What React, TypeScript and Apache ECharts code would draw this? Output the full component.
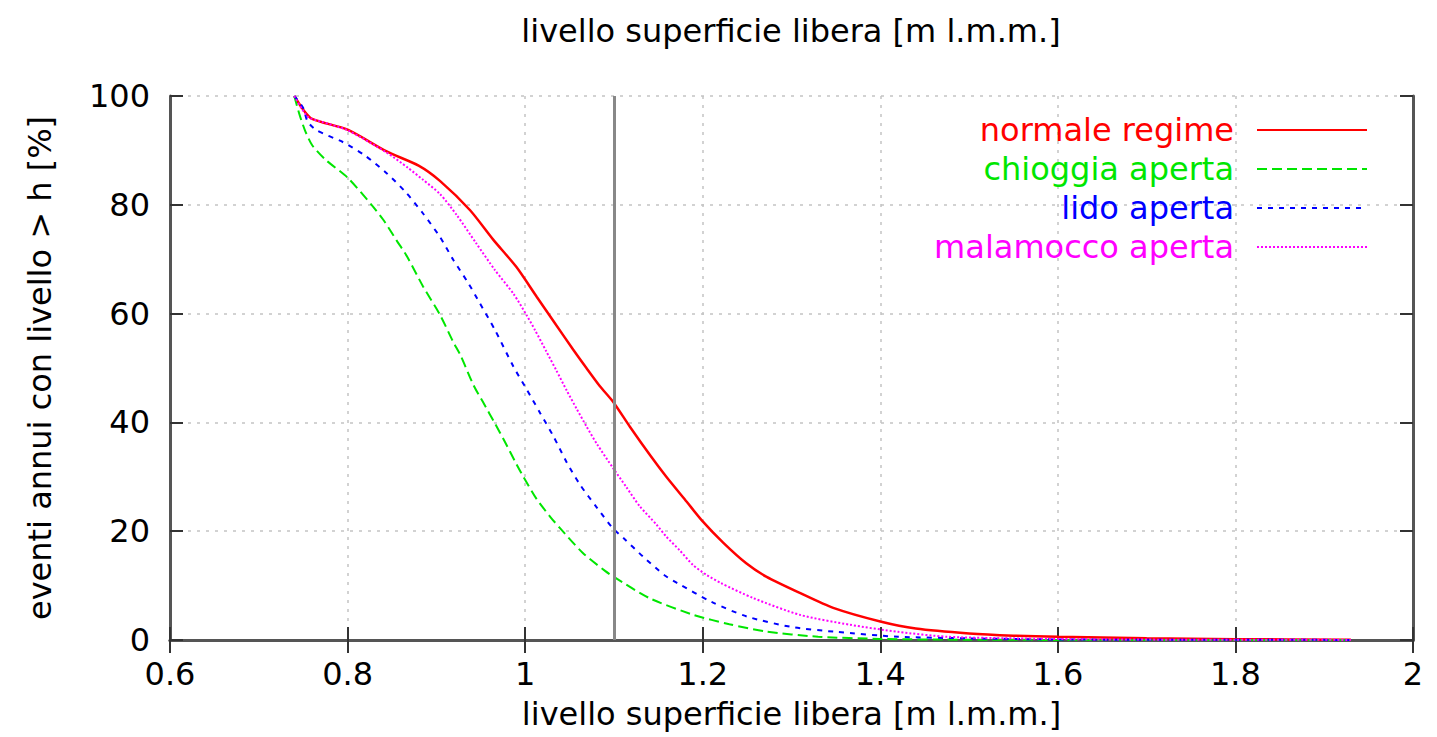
import React, { useEffect, useRef } from "react";
import * as echarts from "echarts";

const xTitle = "livello superficie libera [m l.m.m.]";
const yTitle = "eventi annui con livello > h [%]";
const referenceLevel = 1.1;

const seriesNames = ["normale regime", "chioggia aperta", "lido aperta", "malamocco aperta"];
const seriesColors = ["#ff0000", "#00e600", "#0000ff", "#ff00ff"];

const redX = [0.74, 0.75, 0.76, 0.8, 0.844, 0.88, 0.904, 0.938, 0.964, 0.99, 1.013, 1.032, 1.054, 1.069, 1.084, 1.099, 1.118, 1.141, 1.159, 1.182, 1.2, 1.223, 1.249, 1.272, 1.31, 1.347, 1.4, 1.44, 1.5, 1.55, 1.6, 1.7, 1.8, 1.93];
const redY = [100, 97.5, 95.8, 93.8, 89.8, 87.2, 84.4, 79, 73.6, 68.6, 63.1, 58.6, 53.4, 50.0, 46.7, 43.8, 39.2, 33.9, 30, 25.4, 21.8, 17.9, 14.1, 11.6, 8.6, 5.9, 3.4, 2.1, 1.2, 0.8, 0.6, 0.3, 0.15, 0.05];

const greenX = [0.74, 0.746, 0.752, 0.76, 0.775, 0.8, 0.827, 0.84, 0.855, 0.867, 0.885, 0.904, 0.919, 0.927, 0.942, 0.953, 0.966, 0.977, 0.989, 0.998, 1.013, 1.028, 1.039, 1.065, 1.09, 1.1, 1.14, 1.19, 1.23, 1.27, 1.33, 1.4, 1.5, 1.6, 1.93];
const greenY = [100, 96.5, 93.7, 91, 88.3, 85, 80, 77.3, 73.5, 70.5, 65, 59.8, 54.8, 52.4, 46.8, 43.6, 39.8, 36.5, 32.7, 30, 25.9, 22.7, 20.6, 16, 12.7, 11.6, 7.7, 4.6, 2.9, 1.6, 0.6, 0.2, 0.05, 0.02, 0];

const blueX = [0.74, 0.75, 0.755, 0.765, 0.795, 0.82, 0.844, 0.865, 0.885, 0.904, 0.919, 0.936, 0.949, 0.966, 0.987, 1.002, 1.017, 1.032, 1.047, 1.062, 1.081, 1.099, 1.111, 1.133, 1.157, 1.171, 1.21, 1.25, 1.3, 1.35, 1.42, 1.5, 1.6, 1.7, 1.93];
const blueY = [100, 97.8, 95.3, 93.7, 91.5, 89, 85.8, 82.4, 78.4, 74.1, 69.9, 65.6, 61.9, 57, 50.2, 46, 41.7, 37.4, 32.6, 28.5, 24.3, 20.5, 18.7, 15.3, 11.9, 10.5, 7, 4.3, 2.4, 1.5, 0.6, 0.3, 0.1, 0.05, 0.02];

const magentaX = [0.74, 0.755, 0.77, 0.8, 0.844, 0.868, 0.885, 0.904, 0.923, 0.945, 0.966, 0.987, 1.002, 1.011, 1.024, 1.035, 1.047, 1.058, 1.069, 1.081, 1.099, 1.114, 1.129, 1.148, 1.159, 1.174, 1.189, 1.204, 1.22, 1.257, 1.31, 1.366, 1.42, 1.475, 1.55, 1.65, 1.8, 1.93];
const magentaY = [100, 96.2, 95.3, 93.7, 89.6, 86.8, 84.6, 82, 78.1, 72.9, 68, 63.6, 59.6, 57.0, 53.0, 49.6, 45.8, 42.5, 39.3, 36.0, 31.6, 28.1, 24.6, 21.2, 19, 16.5, 13.8, 12.0, 10.5, 7.7, 4.6, 2.8, 1.5, 0.6, 0.3, 0.1, 0.05, 0.02];

const xs = [redX, greenX, blueX, magentaX];
const ys = [redY, greenY, blueY, magentaY];
const dashTypes: any[] = ["solid", [10, 5], [5, 6], [2, 2]];
const widths = [2.5, 2, 2, 2];

const FONT = "DejaVu Sans";

export default function App() {
  const ref = useRef<HTMLDivElement>(null);
  useEffect(() => {
    const chart = echarts.init(ref.current!, null, { renderer: "svg" });
    const gridSplit = { show: true, lineStyle: { color: "#c4c4c4", type: [3, 6] as any, width: 1.5 } };
    const axisCommon = {
      type: "value" as const,
      axisLine: { show: true, lineStyle: { color: "#555", width: 3 } },
      axisTick: { show: true, inside: true, length: 13, lineStyle: { color: "#333", width: 2 } },
    };
    const lines = seriesNames.map((name, k) => ({
      name,
      type: "line",
      data: xs[k].map((x, i) => [x, ys[k][i]]),
      symbol: "none",
      smooth: 0.25,
      z: 3,
      lineStyle: { color: seriesColors[k], width: widths[k], type: dashTypes[k] },
      itemStyle: { color: seriesColors[k] },
    }));
    chart.setOption({
      animation: false,
      backgroundColor: "#ffffff",
      graphic: [
        {
          type: "text",
          x: 791,
          y: 31,
          style: {
            text: xTitle,
            font: `32px "${FONT}"`,
            fill: "#000",
            textAlign: "center",
            textVerticalAlign: "middle",
          },
        },
      ],
      grid: { left: 170, right: 24, top: 96, bottom: 97, show: false },
      legend: {
        orient: "vertical",
        right: 69,
        top: 114,
        padding: 0,
        align: "right",
        itemWidth: 110,
        itemHeight: 14,
        itemGap: 7,
        itemStyle: { opacity: 0 },
        data: seriesNames.map((n, k) => ({
          name: n,
          textStyle: { color: seriesColors[k] },
        })),
        textStyle: { fontFamily: FONT, fontSize: 32, padding: [0, 18, 0, 0] },
      },
      xAxis: [
        {
          ...axisCommon,
          min: 0.6,
          max: 2,
          interval: 0.2,
          position: "bottom",
          name: xTitle,
          nameLocation: "middle",
          nameGap: 58,
          nameTextStyle: { fontFamily: FONT, fontSize: 32, color: "#000" },
          axisLabel: { fontFamily: FONT, fontSize: 32, color: "#000", margin: 18 },
          splitLine: gridSplit,
        },
        {
          ...axisCommon,
          min: 0.6,
          max: 2,
          interval: 0.2,
          position: "top",
          axisLabel: { show: false },
          splitLine: { show: false },
        },
      ],
      yAxis: [
        {
          ...axisCommon,
          min: 0,
          max: 100,
          interval: 20,
          position: "left",
          name: yTitle,
          nameLocation: "middle",
          nameGap: 114,
          nameRotate: 90,
          nameTextStyle: { fontFamily: FONT, fontSize: 32, color: "#000" },
          axisLabel: { fontFamily: FONT, fontSize: 32, color: "#000", margin: 20 },
          splitLine: gridSplit,
        },
        {
          ...axisCommon,
          min: 0,
          max: 100,
          interval: 20,
          position: "right",
          axisLabel: { show: false },
          splitLine: { show: false },
        },
      ],
      series: [
        {
          name: "ref",
          type: "line",
          data: [],
          z: 1,
          markLine: {
            silent: true,
            symbol: "none",
            label: { show: false },
            lineStyle: { color: "#888", width: 3, type: "solid" },
            data: [{ xAxis: referenceLevel }],
          },
        },
        ...lines,
      ],
    });
    return () => chart.dispose();
  }, []);
  return (
    <div
      ref={ref}
      style={{ position: "fixed", left: 0, top: 0, width: 1437, height: 737, background: "#fff" }}
    />
  );
}
